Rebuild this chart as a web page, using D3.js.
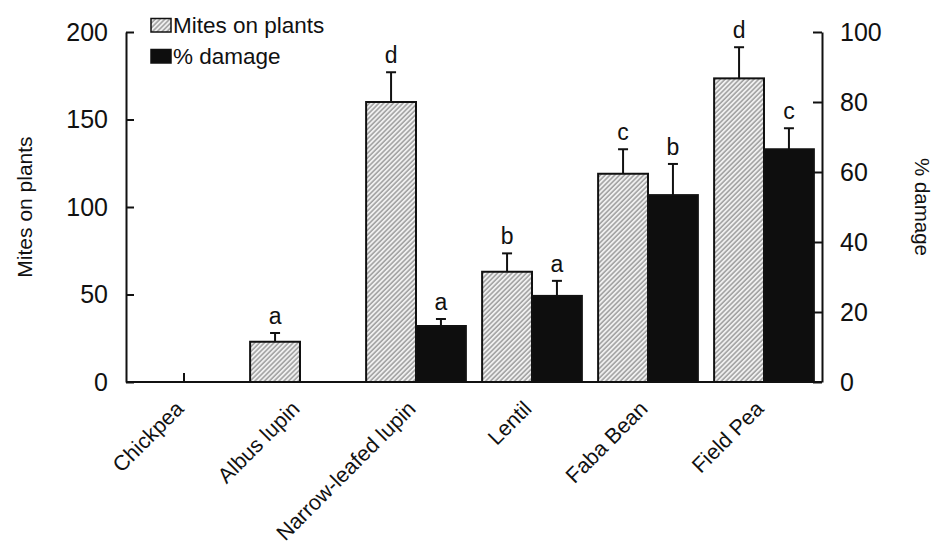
<!DOCTYPE html>
<html>
<head>
<meta charset="utf-8">
<script src="https://cdn.jsdelivr.net/npm/d3@7"></script>
<style>
  html, body { margin: 0; padding: 0; background: #fff; }
  svg { display: block; font-family: "Liberation Sans", Arial, Helvetica, sans-serif; }
</style>
</head>
<body>
<svg id="chart" width="945" height="544"></svg>
<script>
// Crop categories
const categories = ["Chickpea", "Albus lupin", "Narrow-leafed lupin", "Lentil", "Faba Bean", "Field Pea"];

// Mites on plants (left axis), with standard error
const mites      = [0, 23, 160, 63, 119, 173.5];
const mitesErr   = [0, 5, 17, 10.5, 14, 17.8];
const mitesSig   = ["", "a", "d", "b", "c", "d"];

// % damage (right axis), with standard error
const damage     = [0, 0, 16, 24.6, 53.4, 66.5];
const damageErr  = [0, 0, 2, 4.3, 8.9, 6];
const damageSig  = ["", "", "a", "a", "b", "c"];

const leftTicks  = [0, 50, 100, 150, 200];
const rightTicks = [0, 20, 40, 60, 80, 100];

const svg = d3.select("#chart");

const plot = { left: 126, right: 822, top: 32, bottom: 382 };

const x = d3.scaleBand()
  .domain(categories)
  .range([plot.left, plot.right])
  .paddingInner(0.14)
  .paddingOuter(0.07);

const yL = d3.scaleLinear().domain([0, 200]).range([plot.bottom, plot.top]);
const yR = d3.scaleLinear().domain([0, 100]).range([plot.bottom, plot.top]);

const half = x.bandwidth() / 2;

// Diagonal hatch for the mite bars
const defs = svg.append("defs");
const pat = defs.append("pattern")
  .attr("id", "hatch")
  .attr("patternUnits", "userSpaceOnUse")
  .attr("width", 3.4)
  .attr("height", 3.4)
  .attr("patternTransform", "rotate(45)");
pat.append("rect").attr("width", 3.4).attr("height", 3.4).attr("fill", "#f0f0f0");
pat.append("line")
  .attr("x1", 0.9).attr("y1", 0).attr("x2", 0.9).attr("y2", 3.4)
  .attr("stroke", "#767676").attr("stroke-width", 1);

const rows = categories.map((c, i) => ({
  cat: c, mites: mites[i], mErr: mitesErr[i], mSig: mitesSig[i],
  damage: damage[i], dErr: damageErr[i], dSig: damageSig[i]
}));

// Error bars (drawn under the bars so the stem starts at the bar top)
function errorBar(g, cx, yTop, yEnd) {
  g.append("line").attr("x1", cx).attr("x2", cx).attr("y1", yTop).attr("y2", yEnd)
    .attr("stroke", "#111").attr("stroke-width", 2);
  g.append("line").attr("x1", cx - 5).attr("x2", cx + 5).attr("y1", yEnd).attr("y2", yEnd)
    .attr("stroke", "#111").attr("stroke-width", 2);
}

const gBars = svg.append("g");

rows.forEach(d => {
  const x0 = x(d.cat);
  if (d.mites > 0) {
    const cx = x0 + half / 2;
    errorBar(gBars, cx, yL(d.mites), yL(d.mites + d.mErr));
    gBars.append("rect")
      .attr("x", x0).attr("y", yL(d.mites))
      .attr("width", half).attr("height", yL(0) - yL(d.mites))
      .attr("fill", "url(#hatch)").attr("stroke", "#111").attr("stroke-width", 2);
    gBars.append("text")
      .attr("x", cx).attr("y", yL(d.mites + d.mErr) - 9)
      .attr("text-anchor", "middle").attr("font-size", 23).attr("fill", "#111")
      .text(d.mSig);
  }
  if (d.damage > 0) {
    const cx = x0 + half + half / 2;
    errorBar(gBars, cx, yR(d.damage), yR(d.damage + d.dErr));
    gBars.append("rect")
      .attr("x", x0 + half).attr("y", yR(d.damage))
      .attr("width", half).attr("height", yR(0) - yR(d.damage))
      .attr("fill", "#0e0e0e").attr("stroke", "#111").attr("stroke-width", 2);
    gBars.append("text")
      .attr("x", cx).attr("y", yR(d.damage + d.dErr) - 9)
      .attr("text-anchor", "middle").attr("font-size", 23).attr("fill", "#111")
      .text(d.dSig);
  }
  if (d.mites === 0 && d.damage === 0) {
    // Zero for both measures: short marker at the group centre
    const cx = x0 + x.bandwidth() / 2;
    gBars.append("line").attr("x1", cx).attr("x2", cx)
      .attr("y1", yL(0)).attr("y2", yL(0) - 9)
      .attr("stroke", "#111").attr("stroke-width", 2);
  }
});

// Axes
const axisL = d3.axisLeft(yL).tickValues(leftTicks).tickSizeInner(-8).tickSizeOuter(0).tickPadding(18);
const axisR = d3.axisRight(yR).tickValues(rightTicks).tickSizeInner(-9).tickSizeOuter(0).tickPadding(18);

function styleAxis(g) {
  g.selectAll("path, line").attr("stroke", "#111").attr("stroke-width", 2);
  g.selectAll("text").attr("font-size", 25).attr("fill", "#111")
    .attr("font-family", "Liberation Sans, Arial, sans-serif");
}

svg.append("g").attr("transform", `translate(${plot.left},0)`).call(axisL).call(styleAxis);
svg.append("g").attr("transform", `translate(${plot.right},0)`).call(axisR).call(styleAxis);

// Baseline
svg.append("line")
  .attr("x1", plot.left).attr("x2", plot.right)
  .attr("y1", yL(0)).attr("y2", yL(0))
  .attr("stroke", "#111").attr("stroke-width", 2);

// Category labels, rotated
svg.append("g").selectAll("text")
  .data(categories)
  .join("text")
  .attr("transform", d => `translate(${x(d) + x.bandwidth() / 2 + 1},${yL(0) + 28}) rotate(-45)`)
  .attr("text-anchor", "end")
  .attr("font-size", 21.5)
  .attr("fill", "#111")
  .text(d => d);

// Axis titles
svg.append("text")
  .attr("transform", `translate(32,207) rotate(-90)`)
  .attr("text-anchor", "middle").attr("font-size", 21).attr("fill", "#111")
  .text("Mites on plants");

svg.append("text")
  .attr("transform", `translate(915,207) rotate(90)`)
  .attr("text-anchor", "middle").attr("font-size", 20.5).attr("fill", "#111")
  .text("% damage");

// Legend
const legend = [
  { label: "Mites on plants", fill: "url(#hatch)" },
  { label: "% damage", fill: "#0e0e0e" }
];
const lg = svg.append("g");
legend.forEach((l, i) => {
  const yy = 18.5 + i * 31;
  lg.append("rect").attr("x", 151).attr("y", yy).attr("width", 20).attr("height", 13.5)
    .attr("fill", l.fill).attr("stroke", "#111").attr("stroke-width", 1.5);
  lg.append("text").attr("x", 173).attr("y", yy + 14).attr("font-size", 22.5).attr("fill", "#111")
    .text(l.label);
});
</script>
</body>
</html>
